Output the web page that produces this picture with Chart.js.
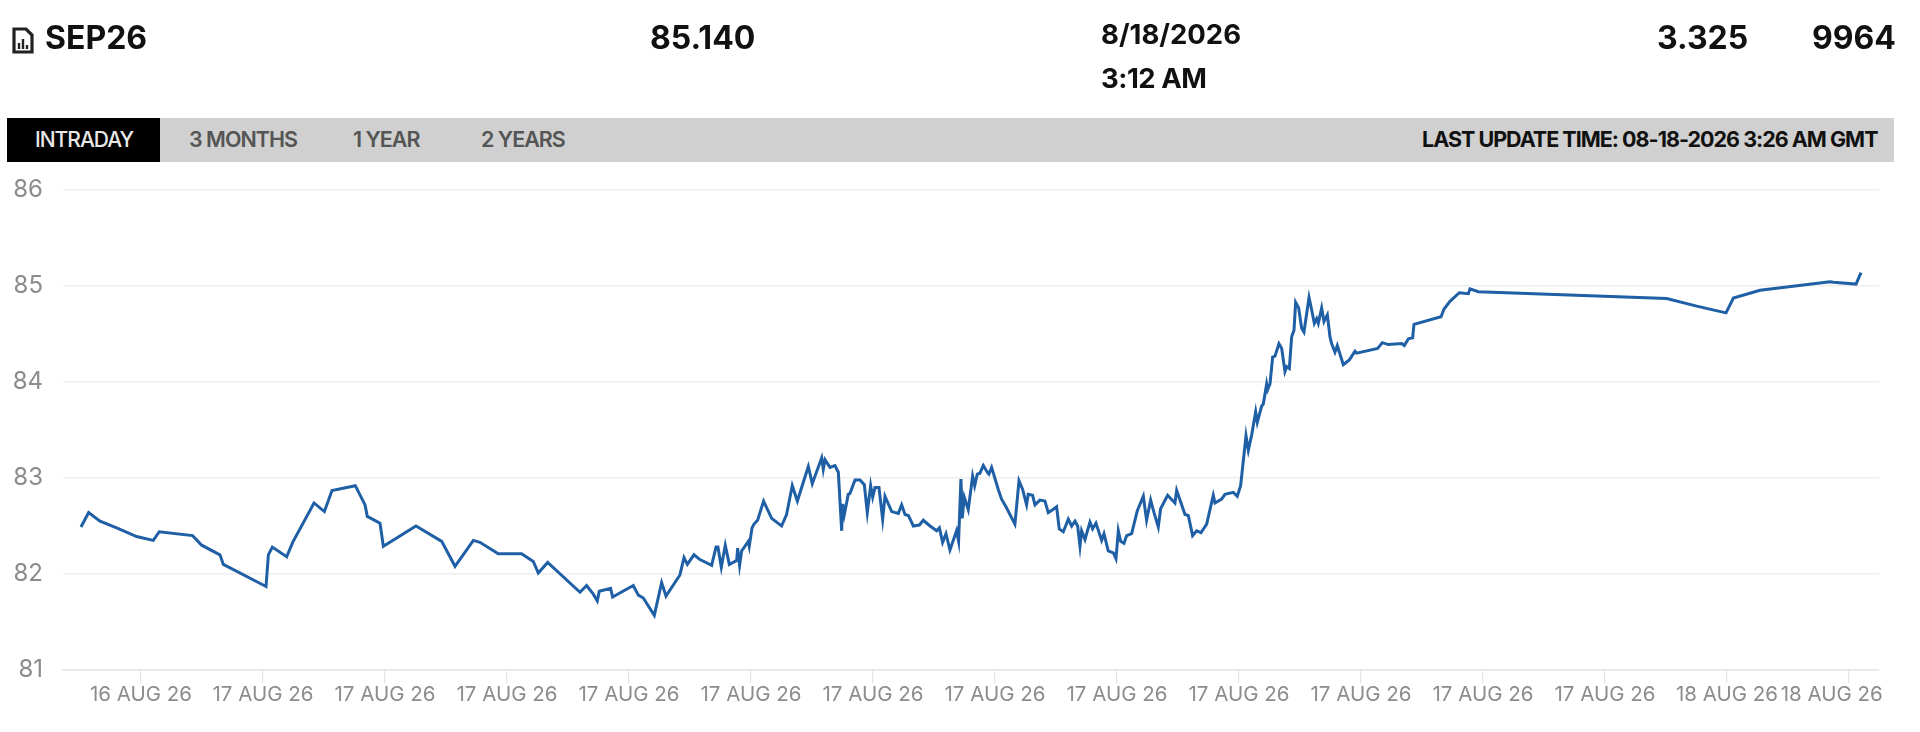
<!DOCTYPE html>
<html>
<head>
<meta charset="utf-8">
<title>SEP26</title>
<script src="https://cdn.jsdelivr.net/npm/chart.js@4"></script>
<style>
    html, body { margin: 0; padding: 0; background: #fff; width: 1920px; height: 732px; overflow: hidden; }
    body { font-family: Inter, "Liberation Sans", sans-serif; color: #111; }
    #chart { position: absolute; left: 0; top: 0; }
    .t { position: absolute; white-space: nowrap; line-height: 1; }
    .big { font-size: 32px; font-weight: 700; }
    .mid { font-size: 27.5px; font-weight: 700; }
    #bar { position: absolute; left: 7px; top: 118px; width: 1887px; height: 44px; background: #d0d0d0; }
    #active { position: absolute; left: 7px; top: 118px; width: 153px; height: 44px; background: #000; }
    .tab { font-size: 21.5px; font-weight: 600; letter-spacing: -1px; color: #555; top: 129px; }
</style>
</head>
<body>
<canvas id="chart" width="1920" height="732"></canvas>

<svg style="position:absolute;left:12px;top:27px" width="22" height="27" viewBox="0 0 22 27">
    <path d="M2 2 H14 L20 8 V25 H2 Z" fill="none" stroke="#222" stroke-width="3.2"/>
    <path d="M7 22 V16 M11 22 V12 M15 22 V18" stroke="#222" stroke-width="2.4"/>
</svg>
<div class="t big" style="left:45px;top:22px">SEP26</div>
<div class="t big" style="left:650px;top:22px">85.140</div>
<div class="t mid" style="left:1101px;top:21px">8/18/2026</div>
<div class="t mid" style="left:1101px;top:65px;letter-spacing:-0.5px">3:12 AM</div>
<div class="t big" style="left:1657px;top:22px">3.325</div>
<div class="t big" style="left:1812px;top:22px">9964</div>

<div id="bar"></div>
<div id="active"></div>
<div class="t tab" style="left:35px;color:#e8e8e8;font-weight:500;font-size:21px">INTRADAY</div>
<div class="t tab" style="left:189px">3 MONTHS</div>
<div class="t tab" style="left:353px">1 YEAR</div>
<div class="t tab" style="left:481px">2 YEARS</div>
<div class="t tab" style="left:1422px;color:#111;font-weight:700">LAST UPDATE TIME: 08-18-2026 3:26 AM GMT</div>

<script>
// minutes counted from the first x axis tick
const minutes = [
    -59, -51.5, -40.3, -23.9, -4.3, 12.1, 18, 50.8, 59.7, 77.7, 81, 123, 125.3, 129.2, 143.3, 149.2,
    170.2, 180.4, 187.9, 210.8, 220.4, 222.6, 235.1, 238.4, 270.5, 295.8, 308.9, 326.9,
    333.4, 351.4, 374.4, 385.9, 390.8, 400, 431.8, 438.3, 444.9, 448.8, 450.8, 461.9, 463.9, 484.2,
    489.2, 494.1, 504.9, 512.1, 516.4, 530.1, 534.1, 537.4, 543.9, 549.8, 561.3, 565.6, 567.5, 570.8,
    574.7, 578.7, 585.9, 586.9, 588.8, 590.8, 597.4, 598.3, 601, 603, 606.5, 612.4, 620.3, 630.1,
    635, 640.6, 645.6, 656.4, 660.3, 669.5, 671.1, 672.8, 677.7, 682.6, 685.9, 689.2, 690.2, 691.8,
    695.7, 697.4, 702.3, 707.2, 711.5, 714.4, 717.7, 719.7, 722, 725.9, 729.5, 731.8, 738.4, 744.9,
    748.2, 751.5, 754.8, 759.7, 765.6, 769.5, 776.1, 782.6, 785.3,
    788.5, 791.8, 795.7, 802.2, 804.2, 806.5, 807.8, 809.8, 813.7, 818, 820, 822.6, 825.2, 828.5,
    832.4, 834, 836.7, 843.2, 846.5, 850.8, 859.6, 863.6, 867.2, 871.1, 872.7, 877, 879.3, 884.2,
    889.1, 892.4, 896.7, 900.6, 903.2, 907.2, 912.1, 915.4, 918.7, 921.3, 923.6, 925.2, 928.5, 933.4,
    936, 939.3, 944.9, 947.2, 951.4, 956.4, 959, 961.3, 963.6, 966.9, 969.5, 974.4, 980, 985.9,
    989.1, 993.1, 996.4, 1000.6, 1002.9, 1009.8, 1017, 1018.7, 1026.9, 1030.1, 1034.4, 1038.3, 1042.6, 1048.2,
    1054.7, 1056.4, 1062.9, 1066.2, 1074.4, 1078.3, 1081.6,
    1086.9, 1089.2, 1092.5, 1096.4, 1098, 1102.3, 1103.9, 1107.2, 1108.2, 1110.5, 1113.1, 1115.4, 1119.3, 1122,
    1125.2, 1126.9, 1129.5, 1131.8, 1134.1, 1135.7, 1138.7, 1141.6, 1143.9, 1148.9, 1151.5, 1154.1, 1156.4, 1158,
    1161.3, 1163.6, 1166.9, 1169.5, 1171.1, 1174.4, 1176.7, 1182.6, 1188.5, 1194.1, 1195.7, 1216.4, 1221, 1226.9,
    1240, 1242.6, 1246.6, 1250.8, 1252.1, 1278.7, 1281.7, 1287.5, 1296.7, 1305.6, 1307.2, 1315.4,
    1500.7, 1530.2, 1559, 1566.3, 1592.5, 1661.3, 1664.6, 1686.9, 1691.8
];

const prices = [
    82.49, 82.64, 82.55, 82.48, 82.39, 82.35, 82.44, 82.40, 82.30, 82.20, 82.10, 81.87, 82.20, 82.28, 82.18, 82.33,
    82.74, 82.65, 82.87, 82.92, 82.72, 82.60, 82.53, 82.29, 82.50, 82.34, 82.08, 82.35,
    82.33, 82.21, 82.21, 82.13, 82.01, 82.12, 81.81, 81.88, 81.79, 81.72, 81.82, 81.85, 81.76, 81.88,
    81.78, 81.75, 81.57, 81.91, 81.77, 81.99, 82.17, 82.10, 82.20, 82.15, 82.09, 82.28, 82.28, 82.07,
    82.30, 82.10, 82.14, 82.27, 82.09, 82.24, 82.34, 82.29, 82.48, 82.52, 82.56, 82.76, 82.58, 82.50,
    82.62, 82.92, 82.76, 83.12, 82.94, 83.21, 83.09, 83.19, 83.11, 83.13, 83.06, 82.45, 82.73, 82.62,
    82.83, 82.84, 82.98, 82.98, 82.93, 82.64, 82.92, 82.80, 82.90, 82.90, 82.57, 82.81, 82.65, 82.63,
    82.72, 82.62, 82.61, 82.50, 82.51, 82.56, 82.50, 82.45, 82.48,
    82.33, 82.42, 82.25, 82.45, 82.34, 82.99, 82.58, 82.80, 82.67, 83.02, 82.92, 83.04, 83.05, 83.13,
    83.06, 83.04, 83.11, 82.88, 82.78, 82.70, 82.52, 82.97, 82.88, 82.72, 82.83, 82.82, 82.72, 82.77,
    82.76, 82.64, 82.67, 82.70, 82.47, 82.44, 82.57, 82.50, 82.55, 82.50, 82.29, 82.45, 82.36, 82.54,
    82.47, 82.53, 82.35, 82.42, 82.24, 82.22, 82.16, 82.45, 82.34, 82.32, 82.40, 82.42, 82.66, 82.81,
    82.56, 82.77, 82.64, 82.49, 82.68, 82.82, 82.74, 82.87, 82.62, 82.61, 82.40, 82.45, 82.43, 82.52,
    82.82, 82.74, 82.78, 82.83, 82.85, 82.81, 82.92,
    83.44, 83.29, 83.45, 83.69, 83.58, 83.75, 83.77, 83.98, 83.92, 83.98, 84.26, 84.27, 84.40, 84.35,
    84.11, 84.16, 84.14, 84.47, 84.54, 84.83, 84.77, 84.56, 84.52, 84.88, 84.75, 84.61, 84.66, 84.61,
    84.77, 84.63, 84.70, 84.47, 84.40, 84.31, 84.38, 84.18, 84.23, 84.32, 84.30, 84.35, 84.41, 84.39,
    84.40, 84.38, 84.45, 84.46, 84.60, 84.68, 84.76, 84.84, 84.93, 84.92, 84.97, 84.94,
    84.87, 84.79, 84.72, 84.875, 84.955, 85.045, 85.04, 85.02, 85.14
];

const tickMinutes = [0, 120, 240, 360, 480, 600, 720, 840, 960, 1080, 1200, 1320, 1440, 1560, 1680];
const tickLabels = [
    '16 AUG 26', '17 AUG 26', '17 AUG 26', '17 AUG 26', '17 AUG 26',
    '17 AUG 26', '17 AUG 26', '17 AUG 26', '17 AUG 26', '17 AUG 26',
    '17 AUG 26', '17 AUG 26', '17 AUG 26', '18 AUG 26', '18 AUG 26'
];

new Chart(document.getElementById('chart'), {
    type: 'line',
    data: {
        datasets: [{
            data: minutes.map((m, i) => ({ x: m, y: prices[i] })),
            borderColor: '#1f5fa5',
            borderWidth: 3,
            pointRadius: 0,
            tension: 0
        }]
    },
    options: {
        responsive: false,
        animation: false,
        layout: { padding: { top: 190, right: 41, left: 0, bottom: 0 } },
        plugins: { legend: { display: false }, tooltip: { enabled: false } },
        scales: {
            x: {
                type: 'linear',
                min: -76.7,
                max: 1709.5,
                afterBuildTicks: axis => { axis.ticks = tickMinutes.map(v => ({ value: v })); },
                afterFit: axis => { axis.height = 62; },
                border: { color: '#e2e5ea', width: 1.6 },
                grid: { drawOnChartArea: false, drawTicks: true, tickLength: 13, color: '#e2e5ea', lineWidth: 1.2 },
                ticks: {
                    autoSkip: false,
                    maxRotation: 0,
                    minRotation: 0,
                    padding: 0,
                    color: '#8c8c8c',
                    font: { family: 'Inter', size: 20.5 },
                    // last label sits left of its tick in the original, trailing spaces push it over
                    callback: (v, i) => i === tickLabels.length - 1 ? tickLabels[i] + '      ' : tickLabels[i]
                }
            },
            y: {
                min: 81,
                max: 86,
                afterFit: axis => { axis.width = 63; },
                border: { display: false },
                grid: { drawTicks: false, color: '#eeeeee', lineWidth: 1.6 },
                ticks: {
                    stepSize: 1,
                    padding: 20,
                    color: '#8c8c8c',
                    font: { family: 'Inter', size: 24 }
                }
            }
        }
    }
});
</script>
</body>
</html>
